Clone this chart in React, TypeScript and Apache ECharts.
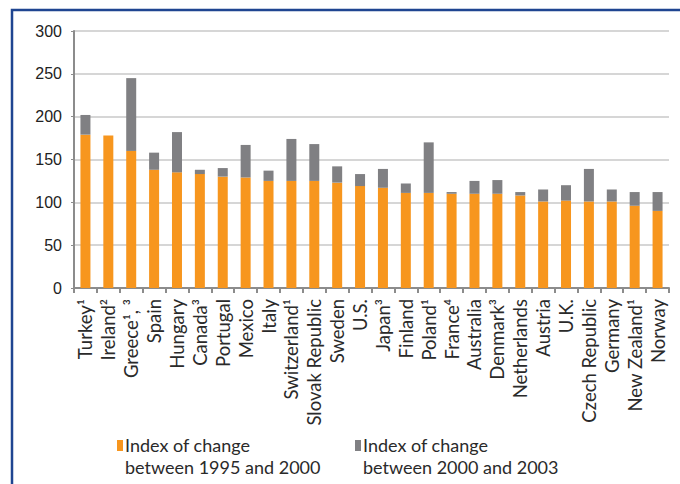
import React, { useEffect, useRef } from "react";
import * as echarts from "echarts";

const categories = [
  "Turkey¹", "Ireland²", "Greece¹, ³", "Spain", "Hungary", "Canada³", "Portugal", "Mexico", "Italy",
  "Switzerland¹", "Slovak Republic", "Sweden", "U.S.", "Japan³", "Finland", "Poland¹", "France⁴",
  "Australia", "Denmark³", "Netherlands", "Austria", "U.K.", "Czech Republic", "Germany",
  "New Zealand¹", "Norway",
];

const change1995to2000 = [
  179, 178, 160, 138, 135, 133, 130, 129, 125, 125, 125, 123, 119, 117, 111, 111, 110, 110, 110, 108,
  101, 102, 101, 101, 96, 90,
];

const change2000to2003 = [
  23, 0, 85, 20, 47, 5, 10, 38, 12, 49, 43, 19, 14, 22, 11, 59, 2, 15, 16, 4, 14, 18, 38, 14, 16, 22,
];

const legendLine1 = ["Index of change", "Index of change"];
const legendLine2 = ["between 1995 and 2000", "between 2000 and 2003"];
const seriesNames = [legendLine1[0] + " " + legendLine2[0], legendLine1[1] + " " + legendLine2[1]];
const yTicks = [0, 50, 100, 150, 200, 250, 300];

const ORANGE = "#F7961E";
const GRAY = "#808083";

export default function App() {
  const ref = useRef<HTMLDivElement>(null);
  useEffect(() => {
    if (!ref.current) return;
    const chart = echarts.init(ref.current, null, { renderer: "svg" });
    const legendText = (x: number, y: number, text: string) => ({
      type: "text",
      x,
      y,
      style: {
        text,
        font: "18px Lato",
        fill: "#2a2a2a",
        textVerticalAlign: "bottom",
      },
    });
    chart.setOption({
      animation: false,
      backgroundColor: "#ffffff",
      grid: { left: 74, right: 11, top: 31, bottom: 196, containLabel: false },
      xAxis: {
        type: "category",
        data: categories,
        boundaryGap: true,
        axisLine: { lineStyle: { color: "#8c8c8c", width: 2 } },
        axisTick: { show: true, length: 5, alignWithLabel: false, lineStyle: { color: "#8c8c8c", width: 2 } },
        axisLabel: {
          rotate: 90,
          interval: 0,
          margin: 11,
          fontFamily: "Lato",
          fontSize: 18.5,
          color: "#2a2a2a",
        },
      },
      yAxis: {
        type: "value",
        min: yTicks[0],
        max: yTicks[yTicks.length - 1],
        interval: 50,
        axisLine: { show: true, lineStyle: { color: "#8c8c8c", width: 2 } },
        axisTick: { show: true, length: 3, lineStyle: { color: "#8c8c8c", width: 1 } },
        splitLine: { show: true, lineStyle: { color: "#d6d6d6", width: 2 } },
        axisLabel: {
          margin: 12,
          fontFamily: "Liberation Sans",
          fontSize: 16,
          color: "#222222",
        },
      },
      series: [
        {
          name: seriesNames[0],
          type: "bar",
          stack: "total",
          barWidth: 10,
          itemStyle: { color: ORANGE },
          data: change1995to2000,
        },
        {
          name: seriesNames[1],
          type: "bar",
          stack: "total",
          barWidth: 10,
          itemStyle: { color: GRAY },
          data: change2000to2003,
        },
      ],
      graphic: [
        {
          type: "rect",
          shape: { x: 12, y: 10, width: 720, height: 520 },
          style: { fill: "none", stroke: "#1f4591", lineWidth: 2.5 },
          silent: true,
        },
        { type: "rect", shape: { x: 117, y: 440, width: 6, height: 11 }, style: { fill: ORANGE } },
        legendText(125, 454, legendLine1[0]),
        legendText(125, 476, legendLine2[0]),
        { type: "rect", shape: { x: 355, y: 440, width: 6, height: 11 }, style: { fill: GRAY } },
        legendText(363, 454, legendLine1[1]),
        legendText(363, 476, legendLine2[1]),
      ],
    });
    return () => chart.dispose();
  }, []);
  return <div ref={ref} style={{ position: "fixed", left: 0, top: 0, width: 680, height: 484 }} />;
}
